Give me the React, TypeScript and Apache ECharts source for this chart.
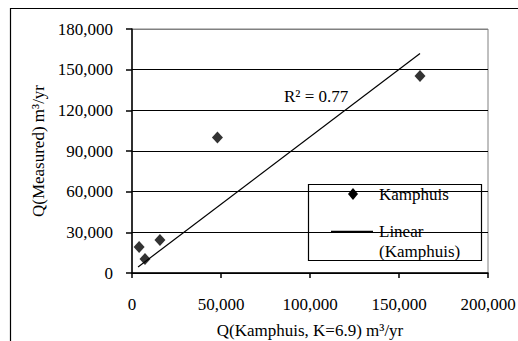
import React, { useEffect, useRef } from "react";
import * as echarts from "echarts";

const kamphuisX = [4000, 7300, 15700, 48000, 161800];
const measuredY = [19200, 10300, 24300, 100000, 145300];
const trendX = [3400, 161800];
const trendY = [4400, 162000];
const xTicks = [0, 50000, 100000, 150000, 200000];
const yTicks = [0, 30000, 60000, 90000, 120000, 150000, 180000];

const FONT = "Liberation Serif";
const FS = 17;

export default function App() {
  const ref = useRef<HTMLDivElement>(null);
  useEffect(() => {
    const chart = echarts.init(ref.current!, null, { renderer: "svg" });
    const fmt = (v: number) => v.toLocaleString("en-US");
    const splitColors = yTicks.map((_, i) => (i === yTicks.length - 1 ? "#808080" : "#000"));
    const txt = (text: string, x: number, y: number) => ({
      type: "text",
      x,
      y,
      style: { text, fontFamily: FONT, fontSize: FS, fill: "#000", verticalAlign: "middle", align: "left" },
    });
    chart.setOption({
      animation: false,
      backgroundColor: "#fff",
      textStyle: { fontFamily: FONT },
      grid: {
        left: 132,
        top: 29,
        width: 356,
        height: 244,
        show: true,
        containLabel: false,
        outerBoundsMode: "none",
        borderColor: "#808080",
        borderWidth: 1,
        backgroundColor: "transparent",
      },
      xAxis: {
        type: "value",
        min: xTicks[0],
        max: xTicks[xTicks.length - 1],
        interval: 50000,
        name: "Q(Kamphuis, K=6.9) m³/yr",
        nameLocation: "middle",
        nameGap: 49,
        nameTextStyle: { fontFamily: FONT, fontSize: FS, color: "#000" },
        axisLine: { show: true, onZero: false, lineStyle: { color: "#000", width: 1.5 } },
        axisTick: { show: true, inside: false, length: 5, lineStyle: { color: "#000", width: 1.5 } },
        axisLabel: { formatter: fmt, fontFamily: FONT, fontSize: FS, color: "#000", margin: 23 },
        splitLine: { show: false },
      },
      yAxis: {
        type: "value",
        min: yTicks[0],
        max: yTicks[yTicks.length - 1],
        interval: 30000,
        name: "Q(Measured) m³/yr",
        nameLocation: "middle",
        nameGap: 83,
        nameTextStyle: { fontFamily: FONT, fontSize: FS, color: "#000" },
        axisLine: { show: true, onZero: false, lineStyle: { color: "#000", width: 1.5 } },
        axisTick: { show: true, inside: false, length: 6, lineStyle: { color: "#000", width: 1.5 } },
        axisLabel: { formatter: fmt, fontFamily: FONT, fontSize: FS, color: "#000", margin: 19 },
        splitLine: { show: true, lineStyle: { color: splitColors, width: 1.2 } },
      },
      series: [
        {
          name: "Kamphuis",
          type: "scatter",
          data: kamphuisX.map((x, i) => [x, measuredY[i]]),
          symbol: "diamond",
          symbolSize: [11, 12],
          itemStyle: { color: "#000" },
          z: 5,
        },
        {
          name: "Linear (Kamphuis)",
          type: "line",
          data: trendX.map((x, i) => [x, trendY[i]]),
          symbol: "none",
          lineStyle: { color: "#000", width: 1.2 },
          silent: true,
          z: 4,
        },
      ],
      graphic: [
        {
          type: "rect",
          shape: { x: 10.5, y: 8.5, width: 700, height: 500 },
          style: { fill: "none", stroke: "#000", lineWidth: 1.2 },
          silent: true,
        },
        txt("R² = 0.77", 284, 96),
        {
          type: "group",
          z: 100,
          children: [
            {
              type: "rect",
              shape: { x: 308.5, y: 184.5, width: 173, height: 76 },
              style: { fill: "#fff", stroke: "#000", lineWidth: 1.2 },
            },
            {
              type: "polygon",
              shape: { points: [[353, 188], [358, 194], [353, 200], [348, 194]] },
              style: { fill: "#000" },
            },
            txt("Kamphuis", 379, 194),
            {
              type: "line",
              shape: { x1: 331, y1: 231.5, x2: 373, y2: 231.5 },
              style: { stroke: "#000", lineWidth: 1.3 },
            },
            txt("Linear", 379, 231),
            txt("(Kamphuis)", 379, 251),
          ],
        },
      ],
    });
    return () => chart.dispose();
  }, []);
  return (
    <div
      ref={ref}
      style={{ position: "fixed", left: 0, top: 0, width: 518, height: 341 }}
    />
  );
}
